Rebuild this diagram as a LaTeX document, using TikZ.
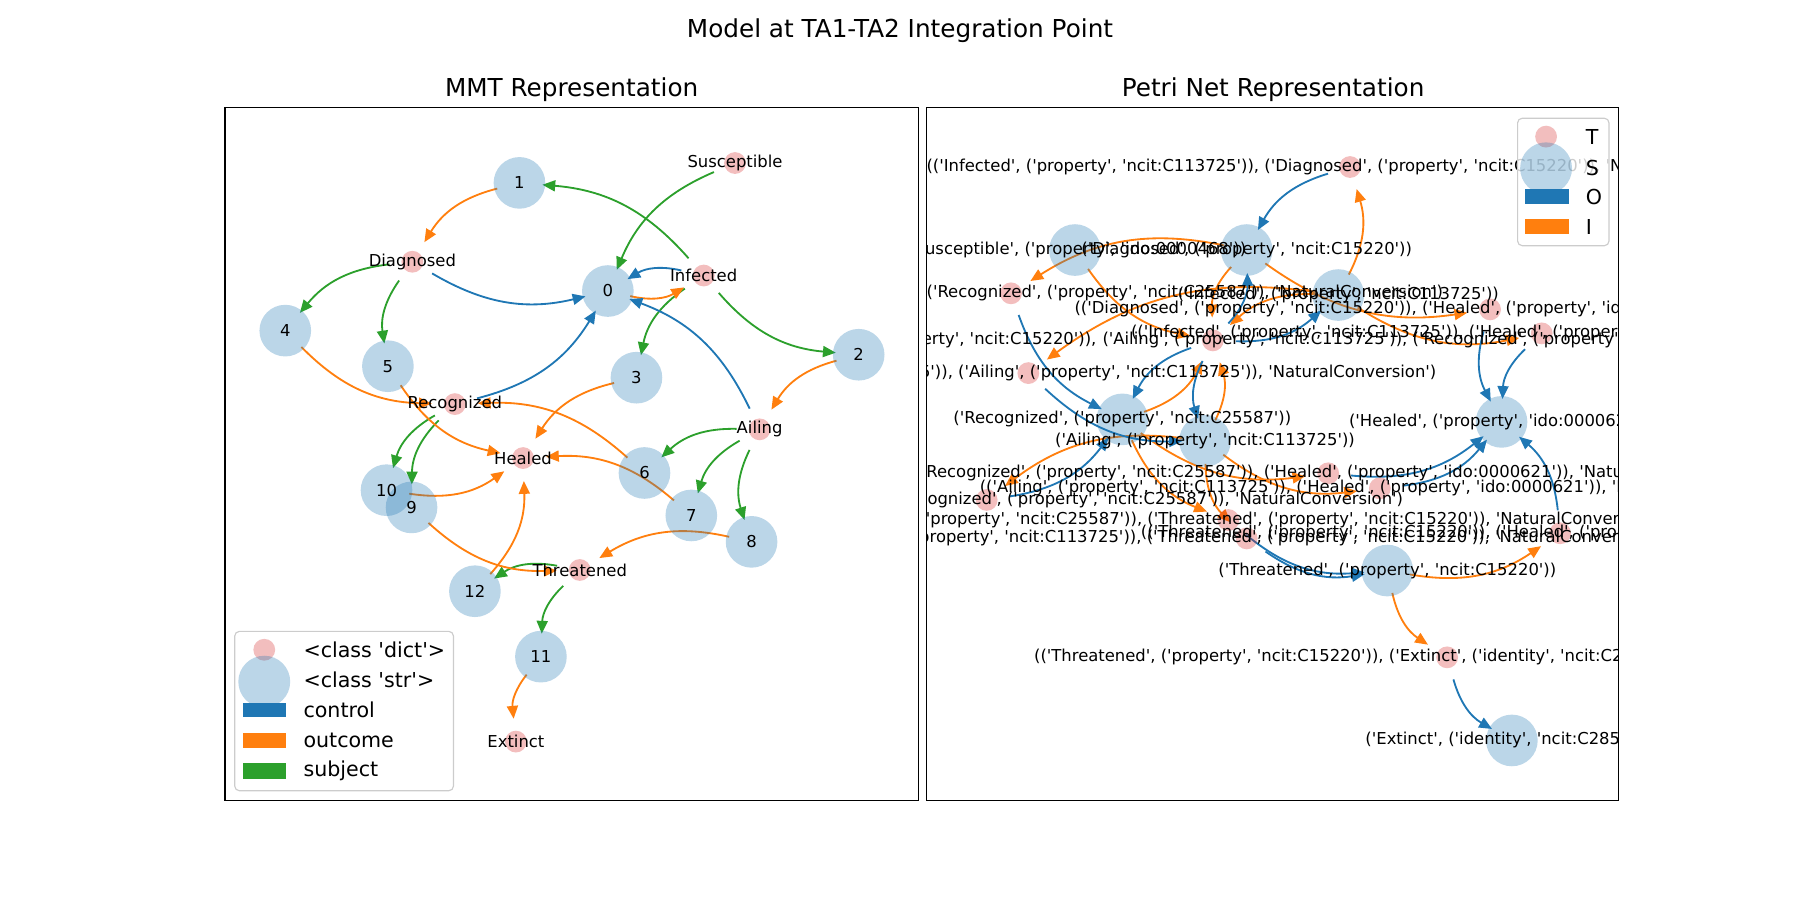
\documentclass[tikz,border=0pt]{standalone}
\usepackage{fontspec}
\setmainfont{DejaVu Sans}[Ligatures=TeXOff]
\usetikzlibrary{arrows.meta}
\definecolor{cC0}{HTML}{1F77B4}
\definecolor{cC1}{HTML}{FF7F0E}
\definecolor{cC2}{HTML}{2CA02C}
\definecolor{cC3}{HTML}{D62728}
\definecolor{legframe}{HTML}{CCCCCC}
\pgfdeclarelayer{edgelayer}
\pgfdeclarelayer{disklayer}
\pgfsetlayers{edgelayer,disklayer,main}
\newcommand\SpS{('Susceptible', ('property', 'ido:0000468'))}
\newcommand\SpI{('Infected', ('property', 'ncit:C113725'))}
\newcommand\SpD{('Diagnosed', ('property', 'ncit:C15220'))}
\newcommand\SpA{('Ailing', ('property', 'ncit:C113725'))}
\newcommand\SpR{('Recognized', ('property', 'ncit:C25587'))}
\newcommand\SpT{('Threatened', ('property', 'ncit:C15220'))}
\newcommand\SpH{('Healed', ('property', 'ido:0000621'))}
\newcommand\SpE{('Extinct', ('identity', 'ncit:C28554'))}
\newcommand\TrL[2]{(#1, #2, 'NaturalConversion')}
\begin{document}
\begin{tikzpicture}[x=0.5pt,y=-0.5pt,
  vtx/.style={circle,minimum size=20pt,inner sep=0pt,outer sep=0pt},
  lbl/.style={font=\fontsize{7.15}{8.6}\selectfont,inner sep=0pt},
  legtext/.style={font=\fontsize{8.97}{10.8}\selectfont,inner sep=0pt,anchor=west},
  ttl/.style={font=\fontsize{10.76}{13}\selectfont,inner sep=0pt},
  edgebase/.style={line width=0.8pt,-{Triangle[length=5.6pt,width=4.8pt]},bend right=22},
  subj/.style={edgebase,draw=cC2},
  outc/.style={edgebase,draw=cC1},
  ctrl/.style={edgebase,draw=cC0},
  bigdisk/.style={fill=cC0,fill opacity=0.3},
  smalldisk/.style={fill=cC3,fill opacity=0.3},
  legbox/.style={draw=legframe,fill=white,fill opacity=0.8,rounded corners=2pt,line width=0.5pt},
  frame/.style={draw=black,line width=0.5pt}
]
\useasboundingbox (0,0) rectangle (1568,784);

% ---------- titles ----------
\node[ttl] (sup) at (784,27) {Model at TA1-TA2 Integration Point};
\node[ttl] (ltitle) at (498,78) {MMT Representation};
\node[ttl] (rtitle) at (1109,78) {Petri Net Representation};

% ---------- MMT nodes ----------
\node[vtx] (Sus) at (640.3,142) {};
\node[vtx] (n1) at (452.5,159.3) {};
\node[vtx] (Dia) at (359.2,228) {};
\node[vtx] (n0) at (529.5,253.5) {};
\node[vtx] (Inf) at (613,240) {};
\node[vtx] (n4) at (248.5,288) {};
\node[vtx] (n5) at (337.9,319) {};
\node[vtx] (n2) at (748,309) {};
\node[vtx] (n3) at (554.4,329) {};
\node[vtx] (Rec) at (396.2,352) {};
\node[vtx] (Ail) at (661.7,374) {};
\node[vtx] (Hea) at (455.6,399) {};
\node[vtx] (n6) at (561.4,412) {};
\node[vtx] (n10) at (336.7,427) {};
\node[vtx] (n9) at (358.5,442) {};
\node[vtx] (n7) at (602.2,449) {};
\node[vtx] (n8) at (654.7,472) {};
\node[vtx] (Thr) at (505,496.5) {};
\node[vtx] (n12) at (413.7,515) {};
\node[vtx] (n11) at (471.2,572) {};
\node[vtx] (Ext) at (449.4,646) {};

% ---------- Petri nodes ----------
\node[vtx] (pS) at (936.4,217.8) {};
\node[vtx] (pD) at (1086,217.8) {};
\node[vtx] (pI) at (1165.8,257) {};
\node[vtx] (pR) at (977.7,365.3) {};
\node[vtx] (pA) at (1049.7,384) {};
\node[vtx] (pH) at (1308,367.5) {};
\node[vtx] (pT) at (1208.5,497) {};
\node[vtx] (pE) at (1317,645) {};
\node[vtx] (tID) at (1176,145.5) {};
\node[vtx] (tDR) at (880.7,255.5) {};
\node[vtx] (tDH) at (1298,269.5) {};
\node[vtx] (tIH) at (1343,290.4) {};
\node[vtx] (tG) at (1056.5,296.5) {};
\node[vtx] (tIA) at (895.8,325) {};
\node[vtx] (tRH) at (1157,412.3) {};
\node[vtx] (tAH) at (1202,425.4) {};
\node[vtx] (tAR) at (859.5,435.5) {};
\node[vtx] (tRT) at (1070,453) {};
\node[vtx] (tAT) at (1086,469) {};
\node[vtx] (tTH) at (1359,464.5) {};
\node[vtx] (tTE) at (1260.6,572.6) {};

% ---------- edges ----------
\begin{pgfonlayer}{edgelayer}
% MMT subject
\draw[subj] (Sus) to (n0);
\draw[subj] (Inf) to (n1);
\draw[subj] (Inf) to (n2);
\draw[subj] (Inf) to (n3);
\draw[subj] (Dia) to (n4);
\draw[subj] (Dia) to (n5);
\draw[subj] (Rec) to (n9);
\draw[subj] (Rec) to (n10);
\draw[subj] (Ail) to (n6);
\draw[subj] (Ail) to (n7);
\draw[subj] (Ail) to (n8);
\draw[subj] (Thr) to (n11);
\draw[subj] (Thr) to (n12);
% MMT outcome
\draw[outc] (n0) to (Inf);
\draw[outc] (n1) to (Dia);
\draw[outc] (n2) to (Ail);
\draw[outc] (n3) to (Hea);
\draw[outc] (n4) to (Rec);
\draw[outc] (n5) to (Hea);
\draw[outc] (n6) to (Rec);
\draw[outc] (n7) to (Hea);
\draw[outc] (n8) to (Thr);
\draw[outc] (n9) to (Thr);
\draw[outc] (n10) to (Hea);
\draw[outc] (n11) to (Ext);
\draw[outc] (n12) to (Hea);
% MMT control
\draw[ctrl] (Inf) to (n0);
\draw[ctrl] (Dia) to (n0);
\draw[ctrl] (Rec) to (n0);
\draw[ctrl] (Ail) to (n0);
% Petri inputs
\draw[outc] (pI) to (tID);
\draw[outc] (pD) to (tDR);
\draw[outc] (pD) to (tDH);
\draw[outc] (pI) to (tIH);
\draw[outc] (pI) to (tIA);
\draw[outc] (pR) to (tRH);
\draw[outc] (pA) to (tAH);
\draw[outc] (pA) to (tAR);
\draw[outc] (pR) to (tRT);
\draw[outc] (pA) to (tAT);
\draw[outc] (pT) to (tTH);
\draw[outc] (pT) to (tTE);
\draw[outc] (pS) to (tG);
\draw[outc] (pI) to (tG);
\draw[outc] (pD) to (tG);
\draw[outc] (pA) to (tG);
\draw[outc] (pR) to (tG);
% Petri outputs
\draw[ctrl] (tID) to (pD);
\draw[ctrl] (tDR) to (pR);
\draw[ctrl] (tDH) to (pH);
\draw[ctrl] (tIH) to (pH);
\draw[ctrl] (tIA) to (pA);
\draw[ctrl] (tRH) to (pH);
\draw[ctrl] (tAH) to (pH);
\draw[ctrl] (tAR) to (pR);
\draw[ctrl] (tRT) to (pT);
\draw[ctrl] (tAT) to (pT);
\draw[ctrl] (tTH) to (pH);
\draw[ctrl] (tTE) to (pE);
\draw[ctrl] (tG) to (pI);
\draw[ctrl] (tG) to (pD);
\draw[ctrl] (tG) to (pA);
\draw[ctrl] (tG) to (pR);
\end{pgfonlayer}

% ---------- disks ----------
\begin{pgfonlayer}{disklayer}
\foreach \v in {n0,n1,n2,n3,n4,n5,n6,n7,n8,n9,n10,n11,n12,pS,pD,pI,pR,pA,pH,pT,pE}
  \fill[bigdisk] (\v) circle[radius=11.25pt];
\foreach \v in {Sus,Dia,Inf,Rec,Ail,Hea,Thr,Ext,tID,tDR,tDH,tIH,tG,tIA,tRH,tAH,tAR,tRT,tAT,tTH,tTE}
  \fill[smalldisk] (\v) circle[radius=4.75pt];
\end{pgfonlayer}

% ---------- frames ----------
\draw[frame] (196,94) rectangle (800,697);
\draw[frame] (807,94) rectangle (1410,697);

% ---------- MMT labels ----------
\node[lbl] (Susl) at (Sus) {Susceptible};
\node[lbl] (n1l) at (n1) {1};
\node[lbl] (Dial) at (Dia) {Diagnosed};
\node[lbl] (n0l) at (n0) {0};
\node[lbl] (Infl) at (Inf) {Infected};
\node[lbl] (n4l) at (n4) {4};
\node[lbl] (n5l) at (n5) {5};
\node[lbl] (n2l) at (n2) {2};
\node[lbl] (n3l) at (n3) {3};
\node[lbl] (Recl) at (Rec) {Recognized};
\node[lbl] (Aill) at (Ail) {Ailing};
\node[lbl] (Heal) at (Hea) {Healed};
\node[lbl] (n6l) at (n6) {6};
\node[lbl] (n10l) at (n10) {10};
\node[lbl] (n9l) at (n9) {9};
\node[lbl] (n7l) at (n7) {7};
\node[lbl] (n8l) at (n8) {8};
\node[lbl] (Thrl) at (Thr) {Threatened};
\node[lbl] (n12l) at (n12) {12};
\node[lbl] (n11l) at (n11) {11};
\node[lbl] (Extl) at (Ext) {Extinct};

% ---------- Petri labels (clipped to axes) ----------
\begin{scope}
\clip (807,94) rectangle (1410,697);
\node[lbl] (pSl) at (pS) {\SpS};
\node[lbl] (pDl) at (pD) {\SpD};
\node[lbl] (pIl) at (pI) {\SpI};
\node[lbl] (pRl) at (pR) {\SpR};
\node[lbl] (pAl) at (pA) {\SpA};
\node[lbl] (pHl) at (pH) {\SpH};
\node[lbl] (pTl) at (pT) {\SpT};
\node[lbl] (pEl) at (pE) {\SpE};
\node[lbl] (tIDl) at (tID) {\TrL{\SpI}{\SpD}};
\node[lbl] (tDRl) at (tDR) {\TrL{\SpD}{\SpR}};
\node[lbl] (tDHl) at (tDH) {\TrL{\SpD}{\SpH}};
\node[lbl] (tIHl) at (tIH) {\TrL{\SpI}{\SpH}};
\node[lbl] (tIAl) at (tIA) {\TrL{\SpI}{\SpA}};
\node[lbl] (tRHl) at (tRH) {\TrL{\SpR}{\SpH}};
\node[lbl] (tAHl) at (tAH) {\TrL{\SpA}{\SpH}};
\node[lbl] (tARl) at (tAR) {\TrL{\SpA}{\SpR}};
\node[lbl] (tRTl) at (tRT) {\TrL{\SpR}{\SpT}};
\node[lbl] (tATl) at (tAT) {\TrL{\SpA}{\SpT}};
\node[lbl] (tTHl) at (tTH) {\TrL{\SpT}{\SpH}};
\node[lbl] (tTEl) at (tTE) {\TrL{\SpT}{\SpE}};
\node[lbl,anchor=east] (tGla) at (955.5,296.5) {(\SpS, \SpI, \SpI, \SpD,};
\node[lbl,anchor=west] (tGlb) at (960,296.5) {\SpA, \SpR, 'GroupedControlledConversion')};
\end{scope}

% ---------- MMT legend ----------
\draw[legbox] (204.5,550) rectangle (395,688.8);
\fill[smalldisk] (230.2,566) circle[radius=4.75pt];
\fill[bigdisk] (230.2,593.8) circle[radius=11.3pt];
\fill[cC0] (211.5,612) rectangle (249.2,625);
\fill[cC1] (211.5,638.5) rectangle (249.2,652);
\fill[cC2] (211.5,665) rectangle (249.2,678.5);
\node[legtext] (lg1) at (264,566) {<class 'dict'>};
\node[legtext] (lg2) at (264,592.4) {<class 'str'>};
\node[legtext] (lg3) at (264,618) {control};
\node[legtext] (lg4) at (264,645.2) {outcome};
\node[legtext] (lg5) at (264,671.3) {subject};

% ---------- Petri legend ----------
\draw[legbox] (1322,103) rectangle (1401.6,214);
\fill[smalldisk] (1346.8,119) circle[radius=4.75pt];
\fill[bigdisk] (1346.8,146.6) circle[radius=11.3pt];
\fill[cC0] (1328.6,164.5) rectangle (1366.6,178);
\fill[cC1] (1328.6,190.5) rectangle (1366.6,204);
\node[legtext] (rg1) at (1381,119) {T};
\node[legtext] (rg2) at (1381,146.6) {S};
\node[legtext] (rg3) at (1381,171.3) {O};
\node[legtext] (rg4) at (1381,197.3) {I};
\end{tikzpicture}
\end{document}
